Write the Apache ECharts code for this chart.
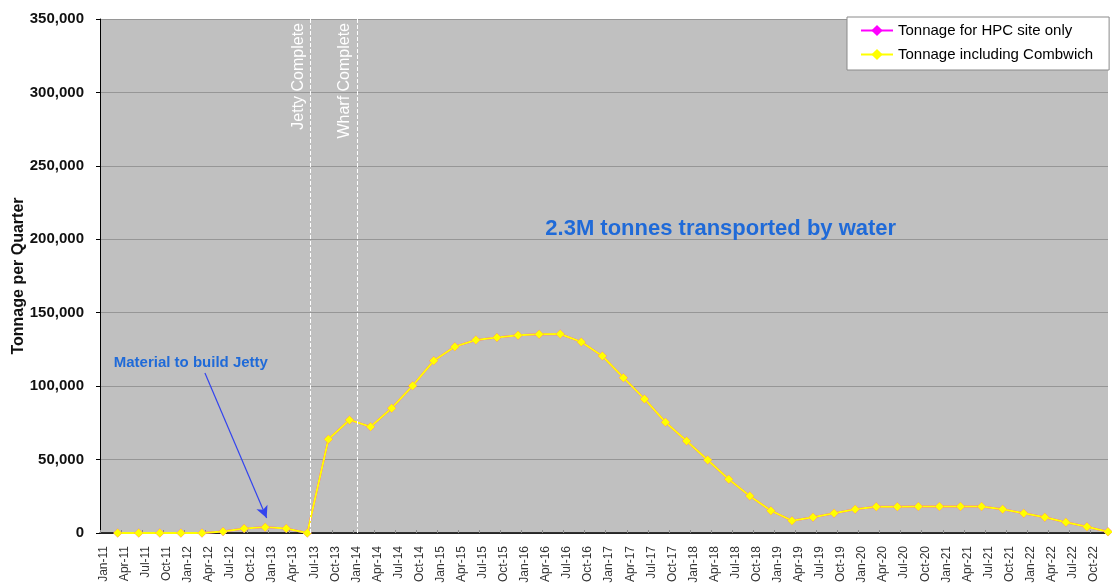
<!DOCTYPE html>
<html lang="en">
<head>
<meta charset="UTF-8">
<title>Tonnage per Quarter</title>
<script src="https://cdn.jsdelivr.net/npm/echarts@6/dist/echarts.min.js"></script>
<style>html,body{margin:0;background:#fff;}</style>
</head>
<body>
<div id="main" style="width:1112px;height:584px;"></div>
<script>
// x axis tick labels, one per quarter
var quarters = ['Jan-11','Apr-11','Jul-11','Oct-11','Jan-12','Apr-12','Jul-12','Oct-12',
    'Jan-13','Apr-13','Jul-13','Oct-13','Jan-14','Apr-14','Jul-14','Oct-14',
    'Jan-15','Apr-15','Jul-15','Oct-15','Jan-16','Apr-16','Jul-16','Oct-16',
    'Jan-17','Apr-17','Jul-17','Oct-17','Jan-18','Apr-18','Jul-18','Oct-18',
    'Jan-19','Apr-19','Jul-19','Oct-19','Jan-20','Apr-20','Jul-20','Oct-20',
    'Jan-21','Apr-21','Jul-21','Oct-21','Jan-22','Apr-22','Jul-22','Oct-22'];

// tonnage including Combwich
var inclCombwich = [0,0,0,0,0,1000,3000,4000,3000,0,
    63800,77000,72400,85000,100300,117300,126900,131400,133200,134600,135300,135500,
    130100,120500,105800,91300,75400,62700,49700,36600,25200,15200,
    8400,10700,13400,16100,17900,17900,18100,18100,18100,18100,16100,13400,10700,7300,4300,900];

// HPC site only - hidden under the yellow line in the original
var hpcOnly = inclCombwich.slice();

var yTicks = [0,50000,100000,150000,200000,250000,300000,350000];

// points sit near the end of each quarter
var quarterEnd = 0.84;

var milestones = [
    {name:'Jetty Complete', x:10.0},
    {name:'Wharf Complete', x:12.2}
];

function toPoints(arr){
    return arr.map(function(v,i){ return [i + quarterEnd, v]; });
}

var font = 'Liberation Sans, Arial, sans-serif';
var blue = '#1f6ad8';

var myChart = echarts.init(document.getElementById('main'));

var option = {
    animation:false,
    textStyle:{fontFamily:font},
    grid:{left:100,right:4,top:19,bottom:51,show:true,backgroundColor:'#c0c0c0',borderWidth:0,
        containLabel:false, outerBoundsMode:'none'},
    legend:{
        orient:'vertical',
        left:847, top:17,
        backgroundColor:'#fff',
        borderColor:'#8a8a8a', borderWidth:1,
        padding:[6,16,8,13],
        itemGap:9, itemWidth:32, itemHeight:14,
        textStyle:{fontSize:15,color:'#000',fontFamily:font},
        data:['Tonnage for HPC site only','Tonnage including Combwich']
    },
    xAxis:{
        type:'value', min:0, max:47 + quarterEnd, interval:1,
        axisLine:{onZero:false,lineStyle:{color:'#000',width:1.5}},
        axisTick:{inside:true,length:3,lineStyle:{color:'#8a8a8a'}},
        splitLine:{show:false},
        axisLabel:{
            rotate:90, margin:13, fontSize:12, color:'#333', fontFamily:font,
            verticalAlign:'top', lineHeight:7,
            formatter:function(v){ return Number.isInteger(v) ? (quarters[v] || '') : ''; }
        }
    },
    yAxis:{
        type:'value', min:yTicks[0], max:yTicks[yTicks.length-1], interval:50000,
        name:'Tonnage per Quarter', nameLocation:'middle', nameGap:73, nameMoveOverlap:false,
        nameTextStyle:{fontSize:16,fontWeight:'bold',color:'#111',fontFamily:font},
        axisLine:{show:true,lineStyle:{color:'#000'}},
        axisTick:{show:true,length:4,lineStyle:{color:'#000'}},
        splitLine:{lineStyle:{color:'#969696'}},
        axisLabel:{
            margin:16, fontSize:15, fontWeight:'bold', color:'#111', fontFamily:font,
            formatter:function(v){ return v.toLocaleString('en-US'); }
        }
    },
    series:[
        {
            name:'Tonnage for HPC site only',
            type:'line',
            data:toPoints(hpcOnly),
            symbol:'diamond', symbolSize:9,
            itemStyle:{color:'#ff00ff'},
            lineStyle:{color:'#ff00ff',width:2},
            // arrow to the jetty material
            markLine:{
                silent:true,
                symbol:['none','arrow'], symbolSize:[9,12],
                lineStyle:{color:'#3344ee',width:1.2,type:'solid'},
                label:{show:false},
                data:[[{coord:[4.98,109000]},{coord:[7.91,10200]}]]
            },
            markPoint:{
                silent:true,
                symbol:'circle', symbolSize:1,
                itemStyle:{color:'rgba(0,0,0,0)'},
                label:{show:true,position:'inside',fontWeight:'bold',color:blue,fontFamily:font},
                data:[
                    {coord:[4.31,116000],label:{formatter:'Material to build Jetty',fontSize:15}},
                    {coord:[29.46,207000],label:{formatter:'2.3M tonnes transported by water',fontSize:22}}
                ]
            }
        },
        {
            name:'Tonnage including Combwich',
            type:'line',
            data:toPoints(inclCombwich),
            symbol:'diamond', symbolSize:9,
            itemStyle:{color:'#ffff00'},
            lineStyle:{color:'#ffff00',width:2},
            markLine:{
                silent:true,
                symbol:'none',
                lineStyle:{color:'#fff',type:'dashed',width:1},
                label:{position:'insideEndTop',color:'#fff',fontSize:16,distance:4,fontFamily:font,
                    formatter:function(p){ return p.name; }},
                data:milestones.map(function(m){
                    return [{name:m.name,coord:[m.x,0]},{coord:[m.x,350000]}];
                })
            }
        }
    ]
};

myChart.setOption(option);
</script>
</body>
</html>
